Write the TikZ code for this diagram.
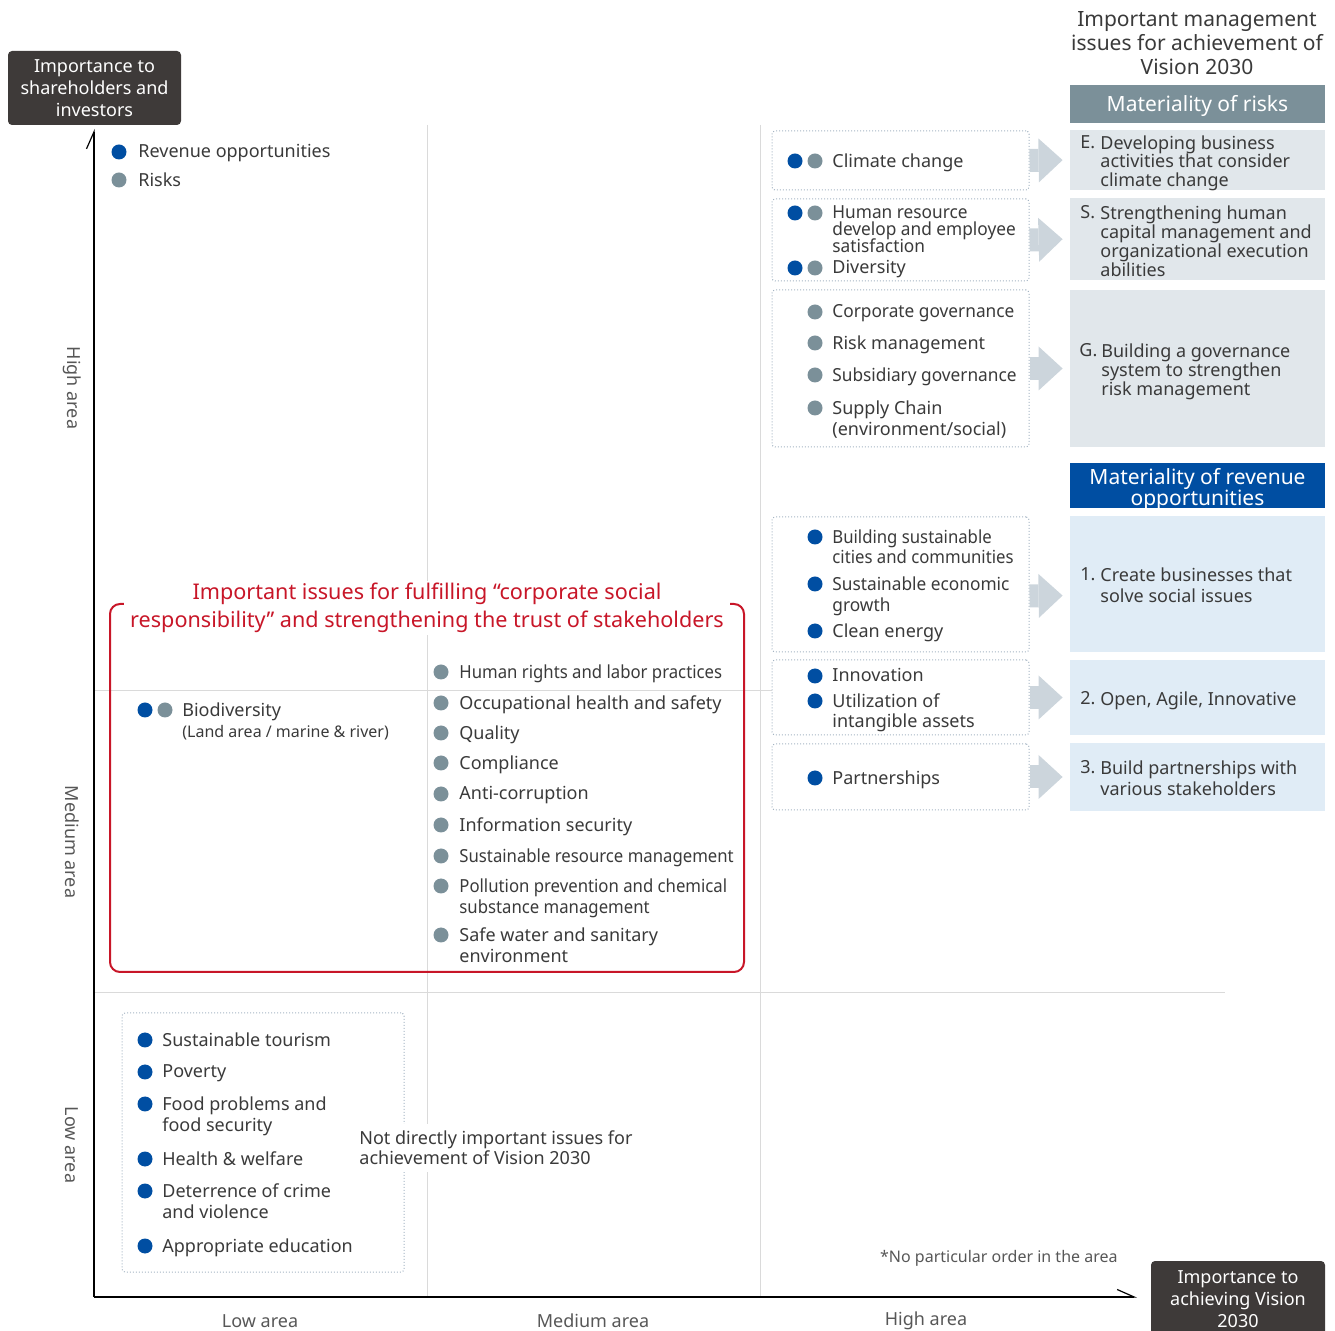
\documentclass[tikz,border=0pt]{standalone}
\usepackage{fontspec}
\setmainfont{Noto Sans}
\newfontfamily\narrowfont[FakeStretch=0.93]{Noto Sans}
\newfontfamily\slimfont[FakeStretch=0.96]{Noto Sans}
\usetikzlibrary{positioning}
\usetikzlibrary{fit}
\usetikzlibrary{arrows.meta}
\definecolor{revblue}{RGB}{0,78,162}
\definecolor{riskgray}{RGB}{123,144,153}
\definecolor{riskbox}{RGB}{225,231,235}
\definecolor{revbox}{RGB}{224,236,246}
\definecolor{arrowgray}{RGB}{204,213,220}
\definecolor{csrred}{RGB}{200,22,40}
\definecolor{darkbox}{RGB}{62,58,57}
\definecolor{txtgray}{RGB}{58,58,58}
\definecolor{gridgray}{RGB}{218,218,218}
\definecolor{dotframe}{RGB}{165,180,195}
\newcommand{\itemstrut}{\rule[-2.6pt]{0pt}{7.4pt}}
\lineskiplimit=-100pt

\begin{document}
\begin{tikzpicture}[x=0.5pt, y=-0.5pt,
bdot/.style={circle,fill=revblue,inner sep=0pt,minimum size=7.5pt},
gdot/.style={circle,fill=riskgray,inner sep=0pt,minimum size=7.5pt},
issue/.style={anchor=north west,inner sep=0pt,align=left,text=txtgray,font=\fontsize{9}{10.5}\selectfont},
slim/.style={font=\slimfont\fontsize{9}{10.5}\selectfont},
narrow/.style={font=\narrowfont\fontsize{9}{10.5}\selectfont},
dotbox/.style={draw=dotframe,line width=0.5pt,dash pattern=on 0.5pt off 1pt,rounded corners=1.5pt,inner sep=0pt},
riskfill/.style={fill=riskbox,inner sep=0pt},
revfill/.style={fill=revbox,inner sep=0pt},
mattext/.style={anchor=north west,inner sep=0pt,align=left,text=txtgray,font=\fontsize{9}{9.3}\selectfont},
barlabel/.style={text=white,align=center,font=\fontsize{10.5}{10.5}\selectfont,inner sep=0pt},
blockarr/.style={draw=arrowgray,line width=11.5pt,-{Triangle[width=22pt,length=12pt,line width=0pt]},shorten >=3.5pt},
gridline/.style={gridgray,line width=0.5pt},
axis/.style={black,line width=0.6pt,-{Straight Barb[left,length=8.5pt,width=7.5pt]}},
darklabel/.style={fill=darkbox,rounded corners=2pt,text=white,align=center,font=\fontsize{9}{11}\selectfont,inner sep=0pt},
arealabel/.style={text=txtgray!85,font=\fontsize{9}{10}\selectfont,inner sep=0pt}]
\useasboundingbox (0,0) rectangle (1335,1331);

% grid of the three areas
\draw [gridline] (427,125) -- (427,1297);
\draw [gridline] (760,125) -- (760,1297);
\draw [gridline] (94,691) -- (772,691);
\draw [gridline] (94,993) -- (1225,993);

% axes
\coordinate (origin) at (94,1297);
\coordinate (yend) at (94,129);
\coordinate (xend) at (1137,1297);
\draw [axis] (origin) -- (yend);
\draw [axis] (origin) -- (xend);

\node [darklabel,minimum width=86.5pt,minimum height=37pt] (share) at (94.5,88) {Importance to\\shareholders and\\investors};
\node [darklabel,minimum width=87pt,minimum height=38pt] (vision) at (1238,1299) {Importance to\\achieving Vision\\2030};

\node [arealabel,rotate=-90] (yhigh) at (72,388) {High area};
\node [arealabel,rotate=-90] (ymed) at (72,842) {Medium area};
\node [arealabel,rotate=-90] (ylow) at (72,1145) {Low area};
\node [arealabel] (xlow) at (260,1321) {Low area};
\node [arealabel] (xmed) at (593,1321) {Medium area};
\node [arealabel] (xhigh) at (926,1321) {High area};
\node [arealabel,anchor=east,font=\fontsize{8}{9}\selectfont] (order) at (1118,1258) {*No particular order in the area};

% legend
\node [bdot] (lgrev) at (119,152) {};
\node [issue] (lgrevt) at (138,144) {\itemstrut Revenue opportunities};
\node [gdot] (lgrisk) at (119,180) {};
\node [issue] (lgriskt) at (138,172) {\itemstrut Risks};

% materiality column
\node [text=txtgray,align=center,font=\fontsize{10.5}{12}\selectfont,inner sep=0pt] (head) at (1197,43) {Important management\\issues for achievement of\\Vision 2030};
\node [fill=riskgray,inner sep=0pt,fit={(1070,85) (1325,123)}] (riskbar) {};
\node [barlabel] (riskbart) at ([yshift=-1pt]riskbar.center) {Materiality of risks};
\node [riskfill,fit={(1070,130) (1325,190)}] (mE) {};
\node [riskfill,fit={(1070,198) (1325,280)}] (mS) {};
\node [riskfill,fit={(1070,290) (1325,447)}] (mG) {};
\node [fill=revblue,inner sep=0pt,fit={(1070,463) (1325,508)}] (revbar) {};
\node [barlabel] (revbart) at ([yshift=-2pt]revbar.center) {Materiality of revenue\\opportunities};
\node [revfill,fit={(1070,516) (1325,652)}] (m1) {};
\node [revfill,fit={(1070,660) (1325,735)}] (m2) {};
\node [revfill,fit={(1070,743) (1325,811)}] (m3) {};

\node [mattext] (mEn) at (1080,135) {\itemstrut E.};
\node [mattext] (mEt) at (1100,135) {\itemstrut Developing business\\activities that consider\\climate change};
\node [mattext] (mSn) at (1080,205) {\itemstrut S.};
\node [mattext,font=\fontsize{9}{9.5}\selectfont] (mSt) at (1100,205) {\itemstrut Strengthening human\\capital management and\\organizational execution\\abilities};
\node [mattext] (mGn) at (1079,343) {\itemstrut G.};
\node [mattext,font=\fontsize{9}{9.5}\selectfont] (mGt) at (1101,343) {\itemstrut Building a governance\\system to strengthen\\risk management};
\node [mattext] (m1n) at (1080,567) {\itemstrut 1.};
\node [mattext,font=\fontsize{9}{10.5}\selectfont] (m1t) at (1100,567) {\itemstrut Create businesses that\\solve social issues};
\node [mattext] (m2n) at (1080,691) {\itemstrut 2.};
\node [mattext] (m2t) at (1100,691) {\itemstrut Open, Agile, Innovative};
\node [mattext] (m3n) at (1080,760) {\itemstrut 3.};
\node [mattext,font=\fontsize{9}{10.5}\selectfont] (m3t) at (1100,760) {\itemstrut Build partnerships with\\various stakeholders};

% high area issues
\node [dotbox,fit={(772,131) (1029,190)}] (bxclim) {};
\node [dotbox,fit={(772,199) (1029,281)}] (bxhr) {};
\node [dotbox,fit={(772,290) (1029,447)}] (bxgov) {};
\node [dotbox,fit={(772,517) (1029,652)}] (bxcity) {};
\node [dotbox,fit={(772,660) (1029,735)}] (bxinno) {};
\node [dotbox,fit={(772,744) (1029,810)}] (bxpart) {};

\node [bdot] (climb) at (795,161) {};
\node [gdot] (climg) at (815,161) {};
\node [issue] (clim) at (832,153) {\itemstrut Climate change};
\node [bdot] (hrb) at (795,213) {};
\node [gdot] (hrg) at (815,213) {};
\node [issue,font=\slimfont\fontsize{9}{8.5}\selectfont] (hr) at (832,205) {\itemstrut Human resource\\develop and employee\\satisfaction};
\node [bdot] (divb) at (795,268) {};
\node [gdot] (divg) at (815,268) {};
\node [issue] (div) at (832,260) {\itemstrut Diversity};

\node [gdot] (cgovg) at (815,312) {};
\node [issue,slim] (cgov) at (832,304) {\itemstrut Corporate governance};
\node [gdot] (riskg) at (815,343) {};
\node [issue] (risk) at (832,335) {\itemstrut Risk management};
\node [gdot] (sgovg) at (815,375) {};
\node [issue,slim] (sgov) at (832,367) {\itemstrut Subsidiary governance};
\node [gdot] (supg) at (815,408) {};
\node [issue] (sup) at (832,400) {\itemstrut Supply Chain\\(environment/social)};

\node [bdot] (cityb) at (815,537) {};
\node [issue,font=\narrowfont\fontsize{9}{10}\selectfont] (city) at (832,529) {\itemstrut Building sustainable\\cities and communities};
\node [bdot] (econb) at (815,584) {};
\node [issue,slim] (econ) at (832,576) {\itemstrut Sustainable economic\\growth};
\node [bdot] (energyb) at (815,631) {};
\node [issue] (energy) at (832,623) {\itemstrut Clean energy};

\node [bdot] (innob) at (815,676) {};
\node [issue] (inno) at (832,668) {\itemstrut Innovation};
\node [bdot] (assetb) at (815,701) {};
\node [issue,font=\fontsize{9}{10}\selectfont] (asset) at (832,693) {\itemstrut Utilization of\\intangible assets};

\node [bdot] (partb) at (815,778) {};
\node [issue] (part) at (832,770) {\itemstrut Partnerships};

\draw [blockarr] (bxclim.east) -- (mE.west);
\draw [blockarr] (bxhr.east) -- (mS.west);
\draw [blockarr] (bxgov.east) -- (mG.west);
\draw [blockarr] ([yshift=-5.75pt]bxcity.east) -- ([yshift=-5.75pt]m1.west);
\draw [blockarr] (bxinno.east) -- (m2.west);
\draw [blockarr] (bxpart.east) -- (m3.west);

% corporate social responsibility frame
\node [draw=csrred,line width=1pt,rounded corners=5pt,inner sep=0pt,fit={(110,604) (744,972)}] (csr) {};
\node [fill=white,text=csrred,align=center,font=\fontsize{10.8}{14}\selectfont,inner xsep=3pt,inner ysep=1pt] (csrtitle) at (427,608) {Important issues for fulfilling ``corporate social\\responsibility'' and strengthening the trust of stakeholders};

\node [bdot] (biob) at (145,710) {};
\node [gdot] (biog) at (165,710) {};
\node [issue] (bio) at (182,702) {\itemstrut Biodiversity};
\node [issue,font=\fontsize{8}{9}\selectfont] (biosub) at (182,725) {(Land area / marine \& river)};

\node [gdot] (hrlg) at (441,672) {};
\node [issue,narrow] (hrl) at (459,664) {\itemstrut Human rights and labor practices};
\node [gdot] (ohsg) at (441,703) {};
\node [issue] (ohs) at (459,695) {\itemstrut Occupational health and safety};
\node [gdot] (qualg) at (441,733) {};
\node [issue] (qual) at (459,725) {\itemstrut Quality};
\node [gdot] (compg) at (441,763) {};
\node [issue] (comp) at (459,755) {\itemstrut Compliance};
\node [gdot] (acg) at (441,794) {};
\node [issue] (ac) at (459,786) {\itemstrut Anti-corruption};
\node [gdot] (infog) at (441,825) {};
\node [issue] (info) at (459,817) {\itemstrut Information security};
\node [gdot] (resg) at (441,856) {};
\node [issue,narrow] (res) at (459,848) {\itemstrut Sustainable resource management};
\node [gdot] (pollg) at (441,886) {};
\node [issue,narrow] (poll) at (459,878) {\itemstrut Pollution prevention and chemical\\substance management};
\node [gdot] (waterg) at (441,935) {};
\node [issue] (water) at (459,927) {\itemstrut Safe water and sanitary\\environment};

% low area issues
\node [dotbox,fit={(122,1013) (404,1272)}] (bxlow) {};
\node [bdot] (tourb) at (145,1040) {};
\node [issue] (tour) at (162,1032) {\itemstrut Sustainable tourism};
\node [bdot] (povb) at (145,1072) {};
\node [issue] (pov) at (162,1064) {\itemstrut Poverty};
\node [bdot] (foodb) at (145,1104) {};
\node [issue] (food) at (162,1096) {\itemstrut Food problems and\\food security};
\node [bdot] (healthb) at (145,1159) {};
\node [issue] (health) at (162,1151) {\itemstrut Health \& welfare};
\node [bdot] (crimeb) at (145,1191) {};
\node [issue] (crime) at (162,1183) {\itemstrut Deterrence of crime\\and violence};
\node [bdot] (edub) at (145,1246) {};
\node [issue] (edu) at (162,1238) {\itemstrut Appropriate education};

\node [fill=white,anchor=west,align=left,text=txtgray,font=\fontsize{9}{10}\selectfont,inner xsep=1pt,inner ysep=3.5pt] (notdirect) at (357,1148) {Not directly important issues for\\achievement of Vision 2030};
\end{tikzpicture}
\end{document}
